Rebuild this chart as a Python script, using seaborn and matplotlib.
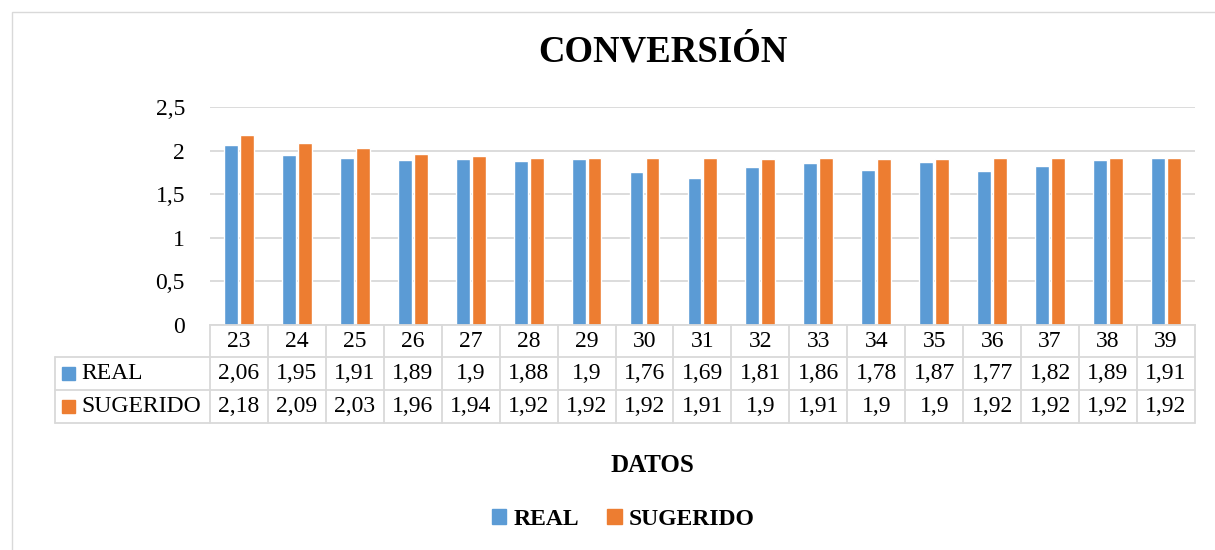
import pandas as pd
import seaborn as sns
import matplotlib.pyplot as plt
import matplotlib.patches as mpatches
from matplotlib.transforms import blended_transform_factory

sns.set_style('white')
plt.rcParams['font.family'] = ['Liberation Serif', 'DejaVu Sans']
plt.rcParams['text.color'] = 'black'
plt.rcParams['ytick.color'] = 'black'

datos = [23, 24, 25, 26, 27, 28, 29, 30, 31, 32, 33, 34, 35, 36, 37, 38, 39]
real = [2.06, 1.95, 1.91, 1.89, 1.9, 1.88, 1.9, 1.76, 1.69, 1.81, 1.86, 1.78, 1.87, 1.77, 1.82, 1.89, 1.91]
sugerido = [2.18, 2.09, 2.03, 1.96, 1.94, 1.92, 1.92, 1.92, 1.91, 1.9, 1.91, 1.9, 1.9, 1.92, 1.92, 1.92, 1.92]
series = ['REAL', 'SUGERIDO']
yticks = [0, 0.5, 1, 1.5, 2, 2.5]

colors = ['#5B9BD5', '#ED7D31']
grey = '#d9d9d9'

df = pd.DataFrame({'dato': datos * 2,
                   'valor': real + sugerido,
                   'serie': ['REAL'] * len(datos) + ['SUGERIDO'] * len(datos)})

fig = plt.figure(figsize=(12.15, 5.5), dpi=100)
ax = fig.add_axes([0.1728, 0.409, 0.8107, 0.3965])

sns.barplot(data=df, x='dato', y='valor', hue='serie', palette=colors,
            width=0.55, gap=0.13, ax=ax, legend=False, saturation=1)

ax.set_ylim(0, 2.5)
ax.set_xlim(-0.5, len(datos) - 0.5)
ax.set_yticks(yticks)
ax.set_yticklabels([str(t).replace('.', ',') if t % 1 else str(int(t)) for t in yticks], fontsize=17)
ax.tick_params(axis='y', length=0, pad=18)
ax.tick_params(axis='x', length=0, labelbottom=False)
ax.set_xlabel('')
ax.set_ylabel('')
ax.grid(axis='y', color=grey, lw=1.3)
ax.set_axisbelow(True)
for s in ['top', 'right', 'left']:
    ax.spines[s].set_visible(False)
ax.spines['bottom'].set_color(grey)
ax.spines['bottom'].set_linewidth(1.3)

# data table under the plot
rows_y = [0, -0.147, -0.298, -0.450]
left = -0.157
tr = blended_transform_factory(ax.transData, ax.transAxes)
lk = dict(color=grey, lw=1.3, clip_on=False)
for y in rows_y[1:]:
    ax.plot([left, 1], [y, y], transform=ax.transAxes, **lk)
ax.plot([left, left], [rows_y[1], rows_y[3]], transform=ax.transAxes, **lk)
for i in range(len(datos) + 1):
    ax.plot([i - 0.5, i - 0.5], [rows_y[0], rows_y[3]], transform=tr, **lk)

for i, d in enumerate(datos):
    ax.text(i, (rows_y[0] + rows_y[1]) / 2, str(d), transform=tr, ha='center', va='center', fontsize=17)
    ax.text(i, (rows_y[1] + rows_y[2]) / 2, str(real[i]).replace('.', ','), transform=tr,
            ha='center', va='center', fontsize=17)
    ax.text(i, (rows_y[2] + rows_y[3]) / 2, str(sugerido[i]).replace('.', ','), transform=tr,
            ha='center', va='center', fontsize=17)

for j, (name, c) in enumerate(zip(series, colors)):
    yc = (rows_y[j + 1] + rows_y[j + 2]) / 2
    ax.add_patch(mpatches.Rectangle((-0.150, yc - 0.03), 0.0132, 0.06, color=c,
                                    transform=ax.transAxes, clip_on=False))
    ax.text(-0.131, yc, name, transform=ax.transAxes, ha='left', va='center', fontsize=17)

fig.text(0.546, 0.905, 'CONVERSIÓN', ha='center', va='center', fontsize=26.5, fontweight='bold')
fig.text(0.537, 0.153, 'DATOS', ha='center', va='center', fontsize=18, fontweight='bold')

handles = [mpatches.Patch(color=c, label=s) for s, c in zip(series, colors)]
fig.legend(handles=handles, loc='center', bbox_to_anchor=(0.513, 0.056), ncol=2, frameon=False,
           prop={'weight': 'bold', 'size': 17}, handlelength=0.6, handleheight=0.6,
           handletextpad=0.3, columnspacing=1.2)

fig.add_artist(mpatches.Rectangle((0.01, -0.01), 1.0, 0.988, transform=fig.transFigure,
                                  fill=False, edgecolor=grey, lw=1))

fig.savefig('out.png', dpi=100)
